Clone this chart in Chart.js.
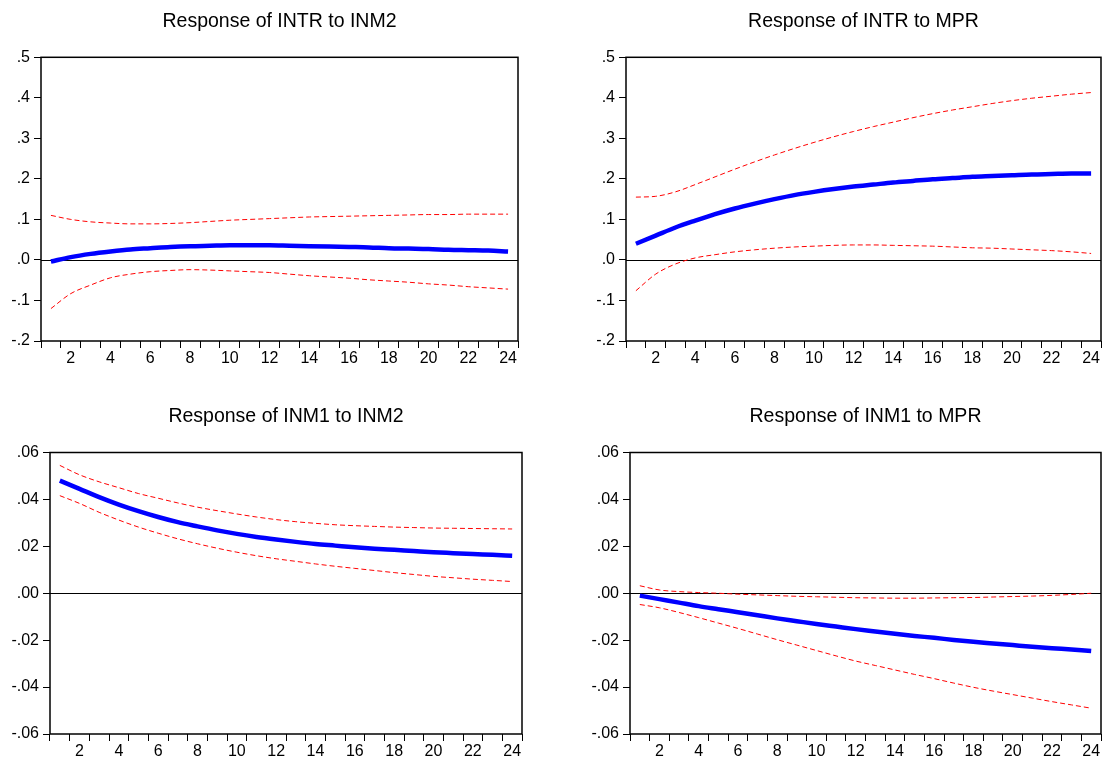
<!DOCTYPE html>
<html><head><meta charset="utf-8">
<script src="https://cdn.jsdelivr.net/npm/chart.js@4.4.1/dist/chart.umd.min.js"></script>
<style>
html,body{margin:0;padding:0;background:#fff;width:1104px;height:758px;overflow:hidden;}
canvas{position:absolute;}
</style></head><body>
<canvas id="c1" width="523" height="380" style="left:0px;top:0px"></canvas>
<canvas id="c2" width="543" height="380" style="left:560px;top:0px"></canvas>
<canvas id="c3" width="527" height="378" style="left:0px;top:380px"></canvas>
<canvas id="c4" width="543" height="378" style="left:560px;top:380px"></canvas>
<script>
// ---- data ----
const periods = ['1','2','3','4','5','6','7','8','9','10','11','12','13','14','15','16','17','18','19','20','21','22','23','24'];

const titleIntrInm2 = 'Response of INTR to INM2';
const titleIntrMpr = 'Response of INTR to MPR';
const titleInm1Inm2 = 'Response of INM1 to INM2';
const titleInm1Mpr = 'Response of INM1 to MPR';

const intrInm2Resp  = [-0.004,0.007,0.015,0.021,0.026,0.029,0.032,0.034,0.035,0.036,0.036,0.036,0.035,0.034,0.033,0.032,0.031,0.029,0.028,0.027,0.025,0.024,0.023,0.021];
const intrInm2Upper = [0.110,0.100,0.094,0.091,0.089,0.089,0.090,0.092,0.095,0.098,0.100,0.102,0.104,0.106,0.107,0.108,0.109,0.110,0.111,0.112,0.112,0.113,0.113,0.113];
const intrInm2Lower = [-0.120,-0.083,-0.062,-0.044,-0.035,-0.029,-0.026,-0.024,-0.025,-0.027,-0.029,-0.031,-0.035,-0.039,-0.042,-0.045,-0.049,-0.052,-0.055,-0.059,-0.062,-0.066,-0.069,-0.072];

const intrMprResp  = [0.040,0.060,0.080,0.097,0.113,0.127,0.139,0.150,0.160,0.168,0.175,0.181,0.186,0.191,0.195,0.199,0.202,0.205,0.207,0.209,0.211,0.212,0.213,0.213];
const intrMprUpper = [0.155,0.157,0.168,0.186,0.205,0.224,0.242,0.259,0.275,0.290,0.304,0.317,0.329,0.340,0.351,0.361,0.370,0.378,0.386,0.393,0.399,0.404,0.409,0.413];
const intrMprLower = [-0.076,-0.035,-0.010,0.005,0.013,0.020,0.025,0.029,0.032,0.034,0.036,0.037,0.037,0.036,0.035,0.034,0.032,0.030,0.029,0.027,0.025,0.023,0.020,0.016];

const inm1Inm2Resp  = [0.0480,0.0445,0.0410,0.0378,0.0350,0.0325,0.0303,0.0285,0.0268,0.0253,0.0240,0.0229,0.0219,0.0210,0.0203,0.0196,0.0190,0.0185,0.0180,0.0175,0.0171,0.0167,0.0164,0.0160];
const inm1Inm2Upper = [0.0545,0.0505,0.0475,0.0450,0.0425,0.0405,0.0385,0.0367,0.0352,0.0338,0.0325,0.0314,0.0305,0.0298,0.0292,0.0288,0.0285,0.0282,0.0280,0.0278,0.0277,0.0276,0.0275,0.0274];
const inm1Inm2Lower = [0.0416,0.0383,0.0345,0.0312,0.0282,0.0256,0.0232,0.0211,0.0192,0.0175,0.0160,0.0147,0.0136,0.0125,0.0115,0.0106,0.0097,0.0088,0.0080,0.0072,0.0066,0.0060,0.0055,0.0050];

const inm1MprResp  = [-0.0010,-0.0025,-0.0040,-0.0055,-0.0068,-0.0081,-0.0094,-0.0107,-0.0119,-0.0131,-0.0142,-0.0153,-0.0163,-0.0173,-0.0182,-0.0190,-0.0199,-0.0207,-0.0214,-0.0221,-0.0228,-0.0234,-0.0240,-0.0246];
const inm1MprUpper = [0.0032,0.0014,0.0007,0.0003,0.0000,-0.0004,-0.0007,-0.0010,-0.0013,-0.0015,-0.0017,-0.0019,-0.0020,-0.0021,-0.0021,-0.0020,-0.0019,-0.0018,-0.0016,-0.0014,-0.0012,-0.0009,-0.0005,0.0000];
const inm1MprLower = [-0.0048,-0.0062,-0.0082,-0.0104,-0.0127,-0.0150,-0.0174,-0.0198,-0.0221,-0.0244,-0.0267,-0.0289,-0.0308,-0.0327,-0.0346,-0.0364,-0.0383,-0.0401,-0.0417,-0.0432,-0.0447,-0.0462,-0.0476,-0.0490];

const topRowTicks = [-0.2,-0.1,0.0,0.1,0.2,0.3,0.4,0.5];
const bottomRowTicks = [-0.06,-0.04,-0.02,0.00,0.02,0.04,0.06];

// ---- rendering ----
const FONT = "'Liberation Sans', Arial, Helvetica, sans-serif";

function fmtTick(v, dec){
  if (Math.abs(v) < 1e-9) v = 0;
  let s = v.toFixed(dec);
  return s.replace(/^(-?)0\./, '$1.');
}

const framePlugin = {
  id: 'frame',
  beforeDatasetsDraw(chart){
    const {ctx, chartArea:a, scales} = chart;
    const y0 = Math.round(scales.y.getPixelForValue(0)) + 0.5;
    ctx.save();
    ctx.strokeStyle = '#000';
    ctx.lineWidth = 1;
    ctx.beginPath();
    ctx.moveTo(a.left, y0); ctx.lineTo(a.right, y0);
    ctx.stroke();
    ctx.restore();
  },
  afterDatasetsDraw(chart){
    const {ctx, chartArea:a} = chart;
    ctx.save();
    ctx.strokeStyle = '#000';
    ctx.lineWidth = 1.5;
    ctx.strokeRect(a.left, a.top, a.right - a.left, a.bottom - a.top);
    ctx.restore();
  }
};

function makeChart(id, cfg){
  const ticksArr = cfg.ticks;
  const dec = cfg.dec;
  new Chart(document.getElementById(id), {
    type: 'line',
    data: {
      labels: periods,
      datasets: [
        {data: cfg.resp, borderColor:'#0000FF', borderWidth:4.5, pointRadius:0, cubicInterpolationMode:'monotone', order:0},
        {data: cfg.upper, borderColor:'#FF0000', borderWidth:1, borderDash:[5,3], pointRadius:0, cubicInterpolationMode:'monotone', order:1},
        {data: cfg.lower, borderColor:'#FF0000', borderWidth:1, borderDash:[5,3], pointRadius:0, cubicInterpolationMode:'monotone', order:1}
      ]
    },
    options: {
      responsive:false, animation:false, devicePixelRatio:1,
      layout:{padding:{left:0,right:cfg.padRight,top:0,bottom:0}},
      plugins:{
        legend:{display:false}, tooltip:{enabled:false},
        title:{display:true, text:cfg.title, fullSize:false, color:'#000',
          font:{family:FONT, size:19.5, weight:'normal'}, padding:{top:cfg.tPadTop, bottom:cfg.tPadBottom}}
      },
      scales:{
        x:{type:'category', offset:true,
          grid:{offset:true, drawOnChartArea:false, drawTicks:true, tickLength:7, color:'#000', lineWidth:1},
          border:{display:false},
          ticks:{autoSkip:false, maxRotation:0, minRotation:0, padding:1, color:'#000', font:{family:FONT, size:16},
            callback(v){ const l = this.getLabelForValue(v); return (+l) % 2 === 0 ? l : ''; }},
          afterFit(s){ s.height = cfg.xH; }
        },
        y:{type:'linear', min:ticksArr[0], max:ticksArr[ticksArr.length-1],
          afterBuildTicks(s){ s.ticks = ticksArr.map(v => ({value:v})); },
          grid:{drawOnChartArea:false, drawTicks:true, tickLength:7, color:'#000', lineWidth:1},
          border:{display:false},
          ticks:{padding:4, color:'#000', font:{family:FONT, size:16}, callback(v){ return fmtTick(v, dec); }},
          afterFit(s){ s.width = cfg.yW; }
        }
      }
    },
    plugins:[framePlugin]
  });
}

makeChart('c1', {title:titleIntrInm2, resp:intrInm2Resp, upper:intrInm2Upper, lower:intrInm2Lower, ticks:topRowTicks, dec:1,
  yW:41, xH:39, padRight:5, tPadTop:9.7, tPadBottom:24.2});
makeChart('c2', {title:titleIntrMpr, resp:intrMprResp, upper:intrMprUpper, lower:intrMprLower, ticks:topRowTicks, dec:1,
  yW:66, xH:39, padRight:2, tPadTop:9.7, tPadBottom:24.2});
makeChart('c3', {title:titleInm1Inm2, resp:inm1Inm2Resp, upper:inm1Inm2Upper, lower:inm1Inm2Lower, ticks:bottomRowTicks, dec:2,
  yW:50, xH:24, padRight:5, tPadTop:25.3, tPadBottom:23.8});
makeChart('c4', {title:titleInm1Mpr, resp:inm1MprResp, upper:inm1MprUpper, lower:inm1MprLower, ticks:bottomRowTicks, dec:2,
  yW:70, xH:24, padRight:2, tPadTop:25.3, tPadBottom:23.8});
</script>
</body></html>
